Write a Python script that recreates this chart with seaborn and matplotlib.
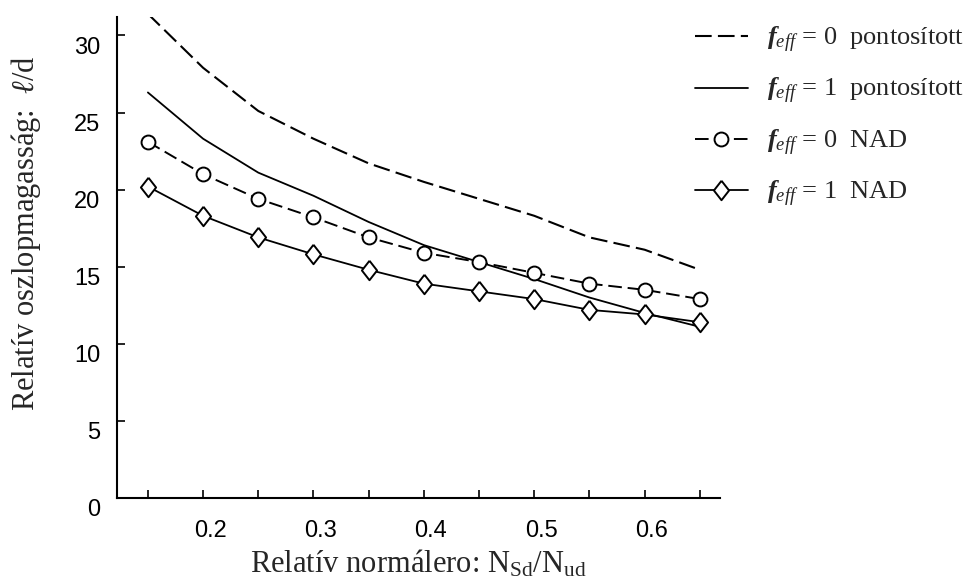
import numpy as np
import pandas as pd
import matplotlib
matplotlib.use('Agg')
import matplotlib.pyplot as plt
import matplotlib.transforms as mtransforms
import seaborn as sns

# relative normal force N_Sd/N_ud
x_vals = [0.15, 0.20, 0.25, 0.30, 0.35, 0.40, 0.45, 0.50, 0.55, 0.60, 0.65]

# relative slenderness l/d
f0_exact = [31.4, 27.9, 25.1, 23.3, 21.7, 20.5, 19.4, 18.3, 16.9, 16.1, 14.8]
f1_exact = [26.3, 23.3, 21.1, 19.6, 17.9, 16.4, 15.3, 14.2, 13.0, 12.0, 11.1]
f0_nad = [23.1, 21.0, 19.4, 18.2, 16.9, 15.9, 15.3, 14.6, 13.9, 13.5, 12.9]
f1_nad = [20.2, 18.3, 16.9, 15.8, 14.8, 13.9, 13.4, 12.9, 12.2, 11.9, 11.4]

series_labels = [
    r'$\mathbf{f}_{\mathit{eff}}$ = 0  pontosított',
    r'$\mathbf{f}_{\mathit{eff}}$ = 1  pontosított',
    r'$\mathbf{f}_{\mathit{eff}}$ = 0  NAD',
    r'$\mathbf{f}_{\mathit{eff}}$ = 1  NAD',
]

x_ticks = [0.15, 0.20, 0.25, 0.30, 0.35, 0.40, 0.45, 0.50, 0.55, 0.60, 0.65]
x_ticklabels = ['', '0.2', '', '0.3', '', '0.4', '', '0.5', '', '0.6', '']
y_ticks = [0, 5, 10, 15, 20, 25, 30]

sns.set_style('ticks')
plt.rcParams['font.family'] = ['Liberation Sans', 'DejaVu Sans']
plt.rcParams['mathtext.fontset'] = 'custom'
plt.rcParams['mathtext.rm'] = 'Liberation Serif'
plt.rcParams['mathtext.it'] = 'Liberation Serif:italic'
plt.rcParams['mathtext.bf'] = 'Liberation Serif:bold:italic'

# slightly tall diamond like the original
diamond = [(0, 1), (0.78, 0), (0, -1), (-0.78, 0), (0, 1)]

fig = plt.figure(figsize=(9.7, 5.81), dpi=100)
ax = fig.add_axes([0.1206, 0.1429, 0.6214, 0.828])

sns.lineplot(x=x_vals, y=f0_exact, ax=ax, color='black', lw=1.5,
             label=series_labels[0])
ax.lines[-1].set_dashes((8, 3))
sns.lineplot(x=x_vals, y=f1_exact, ax=ax, color='black', lw=1.3,
             label=series_labels[1])
sns.lineplot(x=x_vals, y=f0_nad, ax=ax, color='black', lw=1.4,
             marker='o', markersize=10, markerfacecolor='white',
             markeredgecolor='black', markeredgewidth=1.4,
             label=series_labels[2])
ax.lines[-1].set_dashes((7, 3))
sns.lineplot(x=x_vals, y=f1_nad, ax=ax, color='black', lw=1.3,
             marker=diamond, markersize=14, markerfacecolor='white',
             markeredgecolor='black', markeredgewidth=1.4,
             label=series_labels[3])

ax.set_xlim(0.122, 0.668)
ax.set_ylim(0, 31.2)
ax.set_xticks(x_ticks)
ax.set_xticklabels(x_ticklabels)
ax.set_yticks(y_ticks)
ax.tick_params(direction='in', length=6, width=1.2, labelsize=17, colors='black')
ax.tick_params(axis='x', pad=16)
ax.tick_params(axis='y', pad=12)
sns.despine(ax=ax)
for sp in ['left', 'bottom']:
    ax.spines[sp].set_linewidth(1.5)
    ax.spines[sp].set_color('black')

# tick labels in the original sit a little off their ticks
shift_x = mtransforms.ScaledTranslation(0.07, 0, fig.dpi_scale_trans)
for lbl in ax.get_xticklabels():
    lbl.set_transform(lbl.get_transform() + shift_x)
shift_y = mtransforms.ScaledTranslation(0, -0.10, fig.dpi_scale_trans)
for lbl in ax.get_yticklabels():
    lbl.set_transform(lbl.get_transform() + shift_y)

ax.set_xlabel(r'Relatív normálero: N$_{\mathrm{Sd}}$/N$_{\mathrm{ud}}$',
              family='Liberation Serif', fontsize=22, labelpad=4)
ax.set_ylabel(r'Relatív oszlopmagasság:  $\ell$/d',
              family='Liberation Serif', fontsize=22)
ax.yaxis.set_label_coords(-0.122, 0.55)

leg = ax.legend(loc='upper left', bbox_to_anchor=(0.941, 1.005), frameon=False,
                prop={'family': 'Liberation Serif', 'size': 19},
                handlelength=2.0, labelspacing=0.8, handletextpad=0.75,
                borderaxespad=0.0)

fig.savefig('out.png', dpi=100)
